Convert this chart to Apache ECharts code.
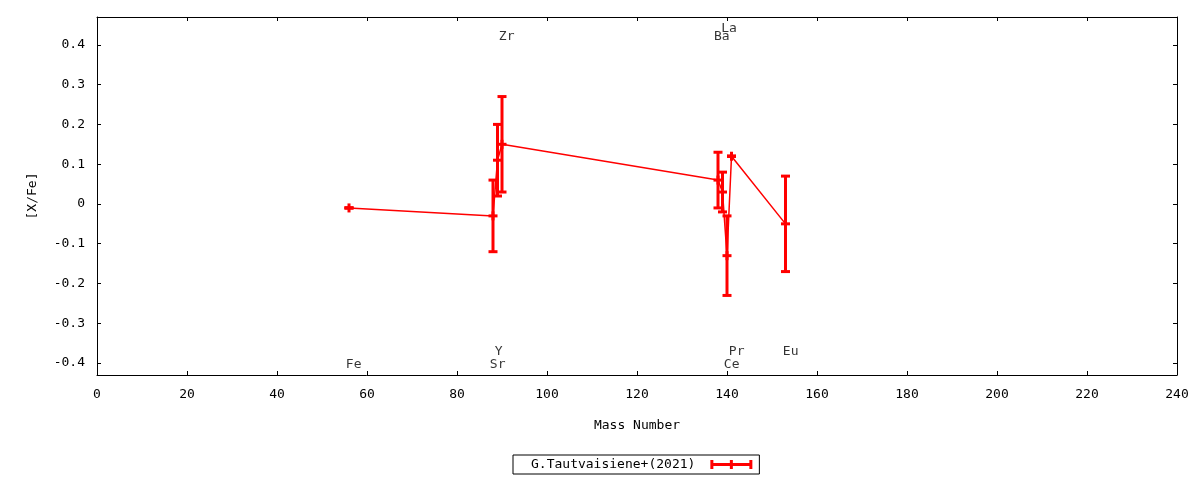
<!DOCTYPE html>
<html>
<head>
<meta charset="utf-8">
<script src="https://cdn.jsdelivr.net/npm/echarts@6/dist/echarts.min.js"></script>
<style>
  html, body { margin: 0; padding: 0; background: #fff; }
  #chart { width: 1200px; height: 480px; }
</style>
</head>
<body>
<div id="chart"></div>
<script>
// element labels, mass numbers, [X/Fe] and errors
const elements = ['Fe', 'Sr', 'Y', 'Zr', 'Ba', 'La', 'Ce', 'Pr', 'Eu']
const masses = [56, 88, 89, 90, 138, 139, 140, 141, 153]
const values = [-0.01, -0.03, 0.11, 0.15, 0.06, 0.03, -0.13, 0.12, -0.05]
const errors = [0, 0.09, 0.09, 0.12, 0.07, 0.05, 0.10, 0, 0.12]
// where each element name sits (x offset from the mass, y level)
const labelShift = [-0.7, -0.7, -0.6, -0.7, -0.9, -0.3, -0.7, -0.6, -0.6]
const labelLevels = [-0.405, -0.405, -0.37, 0.42, 0.42, 0.44, -0.405, -0.37, -0.37]
const yTicks = [-0.4, -0.3, -0.2, -0.1, 0, 0.1, 0.2, 0.3, 0.4]
const seriesName = 'G.Tautvaisiene+(2021)'

const RED = '#ff0000'
const FONT = 'DejaVu Sans Mono'

const chart = echarts.init(document.getElementById('chart'))

const pointData = masses.map((m, i) => [m, values[i]])
const errData = masses.map((m, i) => [m, values[i], errors[i]])
const labelData = masses.map((m, i) => ({ value: [m + labelShift[i], labelLevels[i]], name: elements[i] }))

function renderErr(params, api) {
  const x = api.value(0)
  const v = api.value(1)
  const e = api.value(2)
  const top = api.coord([x, v + e])
  const bot = api.coord([x, v - e])
  const mid = api.coord([x, v])
  const style = { stroke: RED, lineWidth: 3 }
  const half = 4.5
  return {
    type: 'group',
    children: [
      { type: 'line', shape: { x1: top[0], y1: top[1], x2: bot[0], y2: bot[1] }, style },
      { type: 'line', shape: { x1: top[0] - half, y1: top[1], x2: top[0] + half, y2: top[1] }, style },
      { type: 'line', shape: { x1: bot[0] - half, y1: bot[1], x2: bot[0] + half, y2: bot[1] }, style },
      { type: 'line', shape: { x1: mid[0] - half, y1: mid[1], x2: mid[0] + half, y2: mid[1] }, style },
      { type: 'line', shape: { x1: mid[0], y1: mid[1] - half, x2: mid[0], y2: mid[1] + half }, style }
    ]
  }
}

const axisText = { color: '#000', fontFamily: FONT, fontSize: 13 }
const lineStyle = { color: '#000', width: 1 }

const option = {
  animation: false,
  backgroundColor: '#fff',
  grid: { left: 97, right: 23, top: 17, bottom: 105 },
  xAxis: [{
    type: 'value', min: 0, max: 240, interval: 20,
    name: 'Mass Number', nameLocation: 'middle', nameGap: 44,
    nameTextStyle: axisText,
    axisLine: { show: true, onZero: false, lineStyle },
    axisTick: { inside: true, length: 4, lineStyle },
    axisLabel: Object.assign({ margin: 13 }, axisText),
    splitLine: { show: false }
  }, {
    type: 'value', min: 0, max: 240, interval: 20, position: 'top',
    axisLine: { show: true, onZero: false, lineStyle },
    axisTick: { inside: true, length: 4, lineStyle },
    axisLabel: { show: false },
    splitLine: { show: false }
  }],
  yAxis: [{
    type: 'value', min: -0.43, max: 0.47,
    name: '[X/Fe]', nameLocation: 'middle', nameGap: 58, nameRotate: 90,
    nameTextStyle: axisText,
    axisLine: { show: true, onZero: false, lineStyle },
    axisTick: { inside: true, length: 4, lineStyle, customValues: yTicks },
    axisLabel: Object.assign({
      margin: 12,
      customValues: yTicks,
      formatter: v => Math.abs(v) < 1e-9 ? '0' : v.toFixed(1)
    }, axisText),
    splitLine: { show: false }
  }, {
    type: 'value', min: -0.43, max: 0.47, position: 'right',
    axisLine: { show: true, onZero: false, lineStyle },
    axisTick: { inside: true, length: 4, lineStyle, customValues: yTicks },
    axisLabel: { show: false, customValues: yTicks },
    splitLine: { show: false }
  }],
  legend: {
    data: [{ name: seriesName, icon: 'path://M0,3h42v3H0z M0,0h3v9H0z M39,0h3v9h-3z M19.5,0h3v9h-3z' }],
    left: 513, top: 455,
    align: 'right',
    itemWidth: 42, itemHeight: 9,
    padding: [3, 7, 3, 18],
    borderColor: '#000', borderWidth: 1, borderRadius: 0,
    textStyle: { color: '#000', fontFamily: FONT, fontSize: 13, padding: [0, 10, 0, 0] },
    itemStyle: { color: RED }
  },
  series: [{
    name: seriesName,
    type: 'line',
    data: pointData,
    symbol: 'none',
    lineStyle: { color: RED, width: 1.5 },
    itemStyle: { color: RED },
    z: 2
  }, {
    name: seriesName,
    type: 'custom',
    data: errData,
    renderItem: renderErr,
    itemStyle: { color: RED },
    z: 3
  }, {
    name: 'labels',
    type: 'scatter',
    data: labelData,
    symbolSize: 0,
    silent: true,
    label: {
      show: true,
      position: 'inside',
      align: 'left',
      verticalAlign: 'middle',
      formatter: p => p.name,
      color: '#000',
      fontFamily: FONT,
      fontSize: 13
    },
    z: 4
  }]
}

chart.setOption(option)
</script>
</body>
</html>
